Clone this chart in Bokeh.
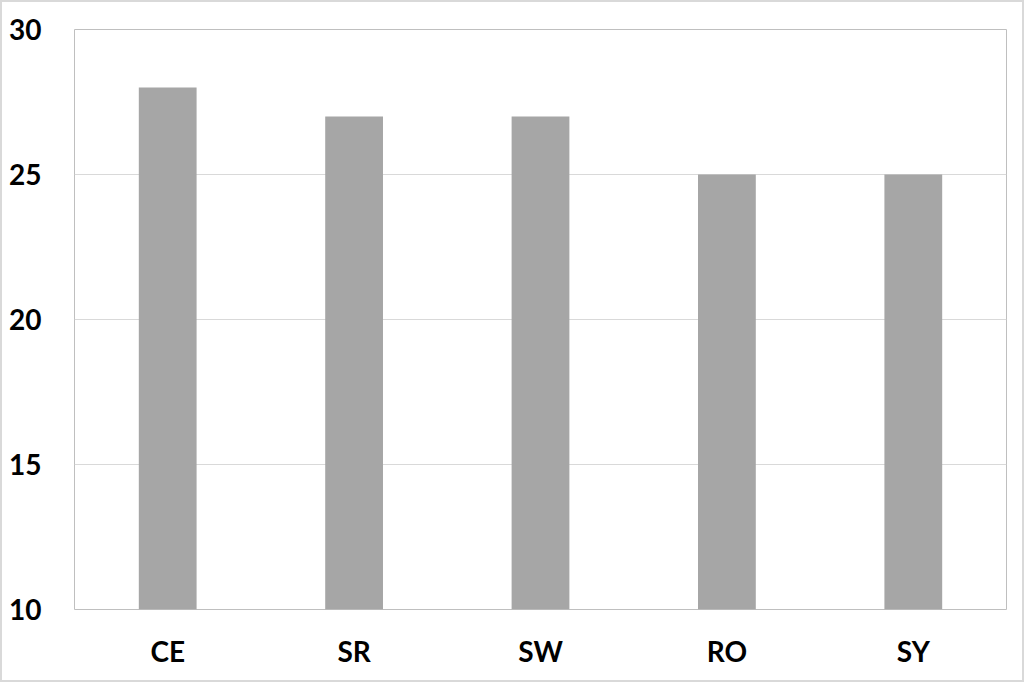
from bokeh.plotting import figure
from bokeh.models import FactorRange, Range1d, FixedTicker
from bokeh.embed import file_html
from bokeh.resources import INLINE

categories = ["CE", "SR", "SW", "RO", "SY"]
values = [28, 27, 27, 25, 25]
y_ticks = [10, 15, 20, 25, 30]

p = figure(x_range=FactorRange(*categories, range_padding=0), y_range=Range1d(10, 30),
           width=1024, height=682, output_backend="svg", toolbar_location=None,
           min_border_left=72, min_border_right=20, min_border_top=27, min_border_bottom=75)
p.styles = {"border": "2px solid #D9D9D9"}
p.vbar(x=categories, top=values, bottom=10, width=0.31, fill_color="#A6A6A6", line_color=None)

p.outline_line_color = "#BFBFBF"
p.outline_line_width = 1
p.xgrid.grid_line_color = None
p.ygrid.grid_line_color = "#D9D9D9"
p.yaxis.ticker = FixedTicker(ticks=y_ticks)
for ax in (p.xaxis[0], p.yaxis[0]):
    ax.axis_line_color = None
    ax.major_tick_line_color = None
    ax.minor_tick_line_color = None
    ax.major_label_text_font = "Lato"
    ax.major_label_text_font_style = "bold"
    ax.major_label_text_font_size = "28px"
    ax.major_label_text_color = "#000000"
p.yaxis.major_label_standoff = 27
p.xaxis.major_label_standoff = 18

open("out.html", "w").write(file_html(p, INLINE))
